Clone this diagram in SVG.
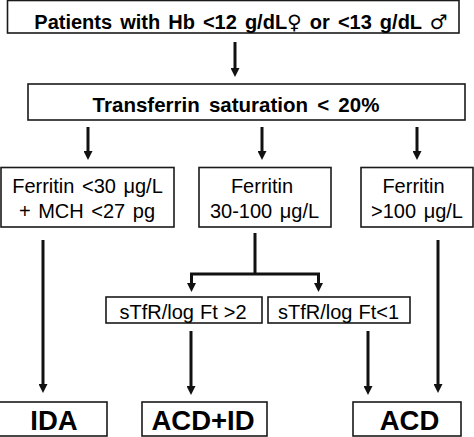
<svg xmlns="http://www.w3.org/2000/svg" width="474" height="437" viewBox="0 0 474 437">
<style>
  .box{fill:#fff;stroke:#1a1a1a;stroke-width:1.6}
  .t{font-family:"Liberation Sans",Arial,sans-serif;fill:#000;text-anchor:middle}
  .b{font-weight:bold}
  .r{font-size:20px;word-spacing:2px}
  .big{font-size:27.5px;font-weight:bold}
  .sym{font-family:"DejaVu Sans",sans-serif;font-weight:normal}
  .c{fill:none;stroke:#111;stroke-width:3}
</style>
<defs>
  <marker id="ah" viewBox="0 0 9 9" markerWidth="9" markerHeight="9" refX="2" refY="4.5" orient="auto" markerUnits="userSpaceOnUse">
    <path d="M0,0 L9,4.5 L0,9 z" fill="#111"/>
  </marker>
</defs>
<rect width="474" height="437" fill="#fff"/>
<g id="n-patients">
  <rect class="box" x="7.5" y="0.5" width="451.5" height="32.5"/>
  <text class="t b" x="241" y="29" font-size="20" style="word-spacing:2.5px">Patients with Hb &lt;12 g/dL<tspan class="sym">♀</tspan> or &lt;13 g/dL <tspan class="sym">♂</tspan></text>
</g>
<g id="n-tsat">
  <rect class="box" x="28" y="84" width="437" height="36"/>
  <text class="t b" x="236" y="112" font-size="20.5" style="word-spacing:3.5px">Transferrin saturation &lt; 20%</text>
</g>
<g id="n-ferr-low">
  <rect class="box" x="1" y="167.5" width="173" height="59.5"/>
  <text class="t r" x="87.5" y="193">Ferritin &lt;30 μg/L</text>
  <text class="t r" x="87" y="217.5">+ MCH &lt;27 pg</text>
</g>
<g id="n-ferr-mid">
  <rect class="box" x="199" y="167.5" width="132" height="59.5"/>
  <text class="t r" x="262" y="193">Ferritin</text>
  <text class="t r" x="264.5" y="217.5">30-100 μg/L</text>
</g>
<g id="n-ferr-high">
  <rect class="box" x="361" y="167.5" width="112" height="59.5"/>
  <text class="t r" x="413.5" y="193">Ferritin</text>
  <text class="t r" x="417" y="217.5">&gt;100 μg/L</text>
</g>
<g id="n-stfr-high">
  <rect class="box" x="106" y="297" width="156" height="26"/>
  <text class="t r" x="183" y="319" style="word-spacing:0.5px">sTfR/log Ft &gt;2</text>
</g>
<g id="n-stfr-low">
  <rect class="box" x="268" y="297" width="142" height="26"/>
  <text class="t r" x="338.5" y="319" style="word-spacing:0.5px">sTfR/log Ft&lt;1</text>
</g>
<g id="n-ida">
  <rect class="box" x="-2" y="402" width="109" height="34"/>
  <text class="t big" x="54" y="430">IDA</text>
</g>
<g id="n-acdid">
  <rect class="box" x="142" y="402" width="125" height="34"/>
  <text class="t big" x="203" y="430">ACD+ID</text>
</g>
<g id="n-acd">
  <rect class="box" x="353" y="402" width="108" height="34"/>
  <text class="t big" x="409.5" y="430">ACD</text>
</g>
<g id="connectors">
  <line class="c" x1="235" y1="42" x2="235" y2="70" marker-end="url(#ah)"/>
  <line class="c" x1="88" y1="127" x2="88" y2="153" marker-end="url(#ah)"/>
  <line class="c" x1="262" y1="127" x2="262" y2="153" marker-end="url(#ah)"/>
  <line class="c" x1="417" y1="127" x2="417" y2="153" marker-end="url(#ah)"/>
  <line class="c" x1="43" y1="240" x2="43" y2="386" marker-end="url(#ah)"/>
  <line class="c" x1="438" y1="240" x2="438" y2="386" marker-end="url(#ah)"/>
  <path class="c" d="M255,233 V274 M190,274 H320"/>
  <line class="c" x1="191.5" y1="274" x2="191.5" y2="285" marker-end="url(#ah)"/>
  <line class="c" x1="318.5" y1="274" x2="318.5" y2="285" marker-end="url(#ah)"/>
  <line class="c" x1="191" y1="331" x2="191" y2="388" marker-end="url(#ah)"/>
  <line class="c" x1="368" y1="331" x2="368" y2="388" marker-end="url(#ah)"/>
</g>
</svg>
